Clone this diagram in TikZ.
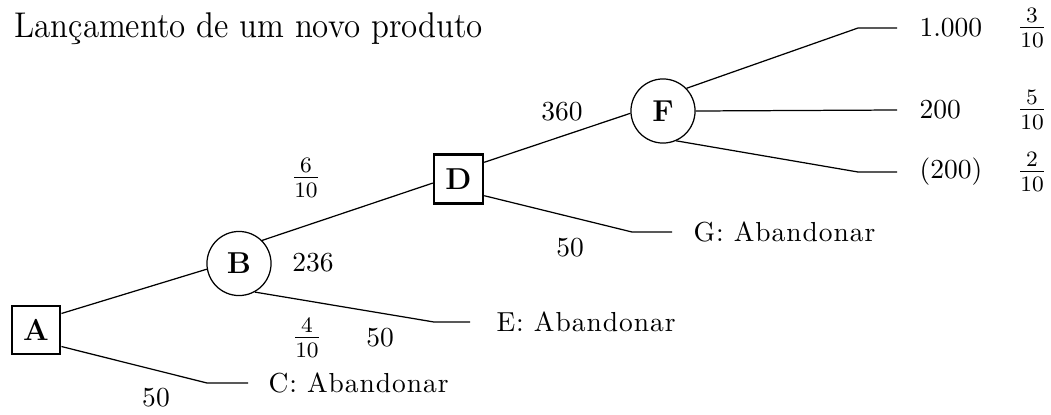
\documentclass[tikz,border=0pt]{standalone}
\usepackage{fontspec}
\newfontfamily\abdfont{lmroman10-regular}[Extension=.otf,LetterSpace=3.5]
\begin{document}
\begin{tikzpicture}[x=0.3636pt,y=-0.3636pt,
  conn/.style={line width=0.45pt},
  decbox/.style={draw,line width=0.9pt,minimum size=17.6pt,inner sep=0pt,font=\fontsize{11}{13}\selectfont\bfseries},
  chance/.style={draw,circle,line width=0.45pt,minimum size=23.3pt,inner sep=0pt,font=\fontsize{11}{13}\selectfont\bfseries},
  lbl/.style={inner sep=0pt},
  frc/.style={inner sep=0pt,font=\fontsize{11.5}{13}\selectfont},
  endtxt/.style={inner sep=0pt,anchor=west},
  abd/.style={endtxt,font=\abdfont}]
\useasboundingbox (0,0) rectangle (1051,414);
% title
\node[anchor=base west,inner sep=0pt] (title) at (14,37)
  {\scalebox{0.92}[1]{\fontsize{13}{15}\selectfont Lançamento de um novo produto}};
% decision and chance nodes
\node[decbox] (A) at (36,330) {A};
\node[chance] (B) at (239,263.5) {B};
\node[decbox,minimum size=17.8pt] (D) at (458.5,179) {D};
\node[chance] (F) at (663,111) {F};
% branch corners and ends
\coordinate (c1) at (207,383); \coordinate (c2) at (248,383);
\coordinate (e1) at (434,322); \coordinate (e2) at (470,322);
\coordinate (g1) at (632,232); \coordinate (g2) at (672,232);
\coordinate (f1) at (858,28);  \coordinate (f2) at (897,28);
\coordinate (f3) at (897,110);
\coordinate (f4) at (858,172); \coordinate (f5) at (897,172);
% connectors
\draw[conn] (A.33) -- (B.190);
\draw[conn] (A.-33) -- (c1) -- (c2);
\draw[conn] (B.45) -- (D.189);
\draw[conn] (B.-61) -- (e1) -- (e2);
\draw[conn] (D.33) -- (F.184);
\draw[conn] (D.-33) -- (g1) -- (g2);
\draw[conn] (F.44) -- (f1) -- (f2);
\draw[conn] (F.0) -- (f3);
\draw[conn] (F.-66) -- (f4) -- (f5);
% end texts
\node[abd] (Ct) at (268,383) {C: Abandonar};
\node[abd] (Et) at (496,322) {E: Abandonar};
\node[abd] (Gt) at (693,232) {G: Abandonar};
\node[endtxt] (v1) at (919,28) {1.000};
\node[endtxt] (v2) at (919,110) {200};
\node[endtxt] (v3) at (919,172) {(200)};
\node[frc] (p1) at (1032,28) {$\frac{3}{10}$};
\node[frc] (p2) at (1032,110) {$\frac{5}{10}$};
\node[frc] (p3) at (1032,172) {$\frac{2}{10}$};
% branch labels
\node[lbl] (l236) at (313,263) {236};
\node[frc] (pB1) at (306,178) {$\frac{6}{10}$};
\node[frc] (pB2) at (307,338) {$\frac{4}{10}$};
\node[lbl] (vE) at (380,338) {50};
\node[lbl] (vC) at (156,398) {50};
\node[lbl] (v360) at (562,112) {360};
\node[lbl] (vG) at (570,248) {50};
\end{tikzpicture}
\end{document}
